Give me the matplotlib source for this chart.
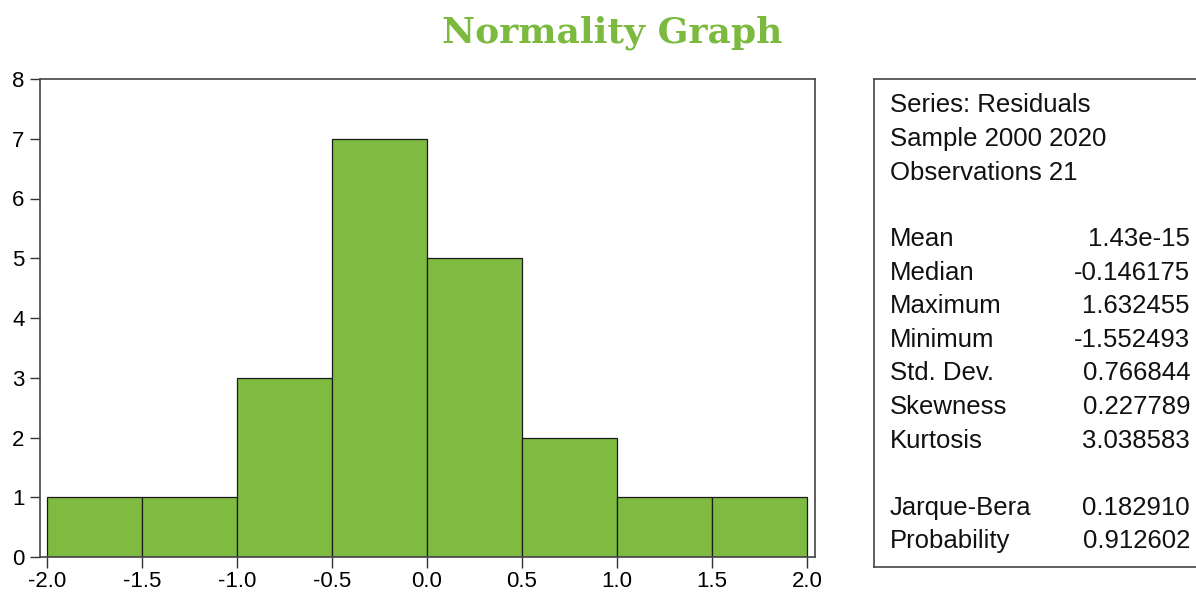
import matplotlib.pyplot as plt

# histogram of residuals
bin_edges = [-2.0, -1.5, -1.0, -0.5, 0.0, 0.5, 1.0, 1.5, 2.0]
counts = [1, 1, 3, 7, 5, 2, 1, 1]

header_lines = ["Series: Residuals", "Sample 2000 2020", "Observations 21"]
stat_names = ["Mean", "Median", "Maximum", "Minimum", "Std. Dev.", "Skewness",
              "Kurtosis", "", "Jarque-Bera", "Probability"]
stat_values = ["1.43e-15", "-0.146175", "1.632455", "-1.552493", "0.766844",
               "0.227789", "3.038583", "", "0.182910", "0.912602"]

W, H = 1196, 596
green = "#80bb41"
plt.rcParams["font.family"] = ["Liberation Sans", "DejaVu Sans"]

fig = plt.figure(figsize=(W / 100, H / 100), dpi=100)


def px_rect(x0, y0, x1, y1):
    return [x0 / W, 1 - y1 / H, (x1 - x0) / W, (y1 - y0) / H]


ax = fig.add_axes(px_rect(40, 79, 815, 557))
widths = [b - a for a, b in zip(bin_edges[:-1], bin_edges[1:])]
ax.bar(bin_edges[:-1], counts, width=widths, align="edge", color=green,
       edgecolor="#1a1a1a", linewidth=0.9)
ax.set_xlim(-2.037, 2.042)
ax.set_ylim(0, 8)
ax.set_xticks([-2.0, -1.5, -1.0, -0.5, 0.0, 0.5, 1.0, 1.5, 2.0])
ax.set_xticklabels(["-2.0", "-1.5", "-1.0", "-0.5", "0.0", "0.5", "1.0", "1.5", "2.0"],
                   fontsize=16)
ax.set_yticks(range(0, 9))
ax.set_yticklabels([str(v) for v in range(0, 9)], fontsize=16)
ax.tick_params(axis="x", length=8, width=1, pad=2, color="#333333")
ax.tick_params(axis="y", length=7, width=1, pad=4, color="#333333")
for s in ax.spines.values():
    s.set_color("#444444")
    s.set_linewidth(1.2)

# stats panel
sx = fig.add_axes(px_rect(874, 79, 1196, 567))
sx.set_xlim(874, 1196)
sx.set_ylim(567, 79)
sx.set_xticks([])
sx.set_yticks([])
sx.spines["right"].set_visible(False)
for s in ["left", "top", "bottom"]:
    sx.spines[s].set_color("#444444")
    sx.spines[s].set_linewidth(1.2)

fs = 18.5
y = 105
for line in header_lines:
    sx.text(890, y, line, fontsize=fs, va="center", ha="left", color="#111111")
    y += 34
y += 32
for name, val in zip(stat_names, stat_values):
    if name:
        sx.text(890, y, name, fontsize=fs, va="center", ha="left", color="#111111")
        sx.text(1190, y, val, fontsize=fs, va="center", ha="right", color="#111111")
    y += 33.6

fig.text(612 / W, 1 - 33 / H, "Normality Graph", fontsize=26, fontweight="bold",
         family="DejaVu Serif", color="#7cba3f", ha="center", va="center")

fig.savefig("out.png", dpi=100)
